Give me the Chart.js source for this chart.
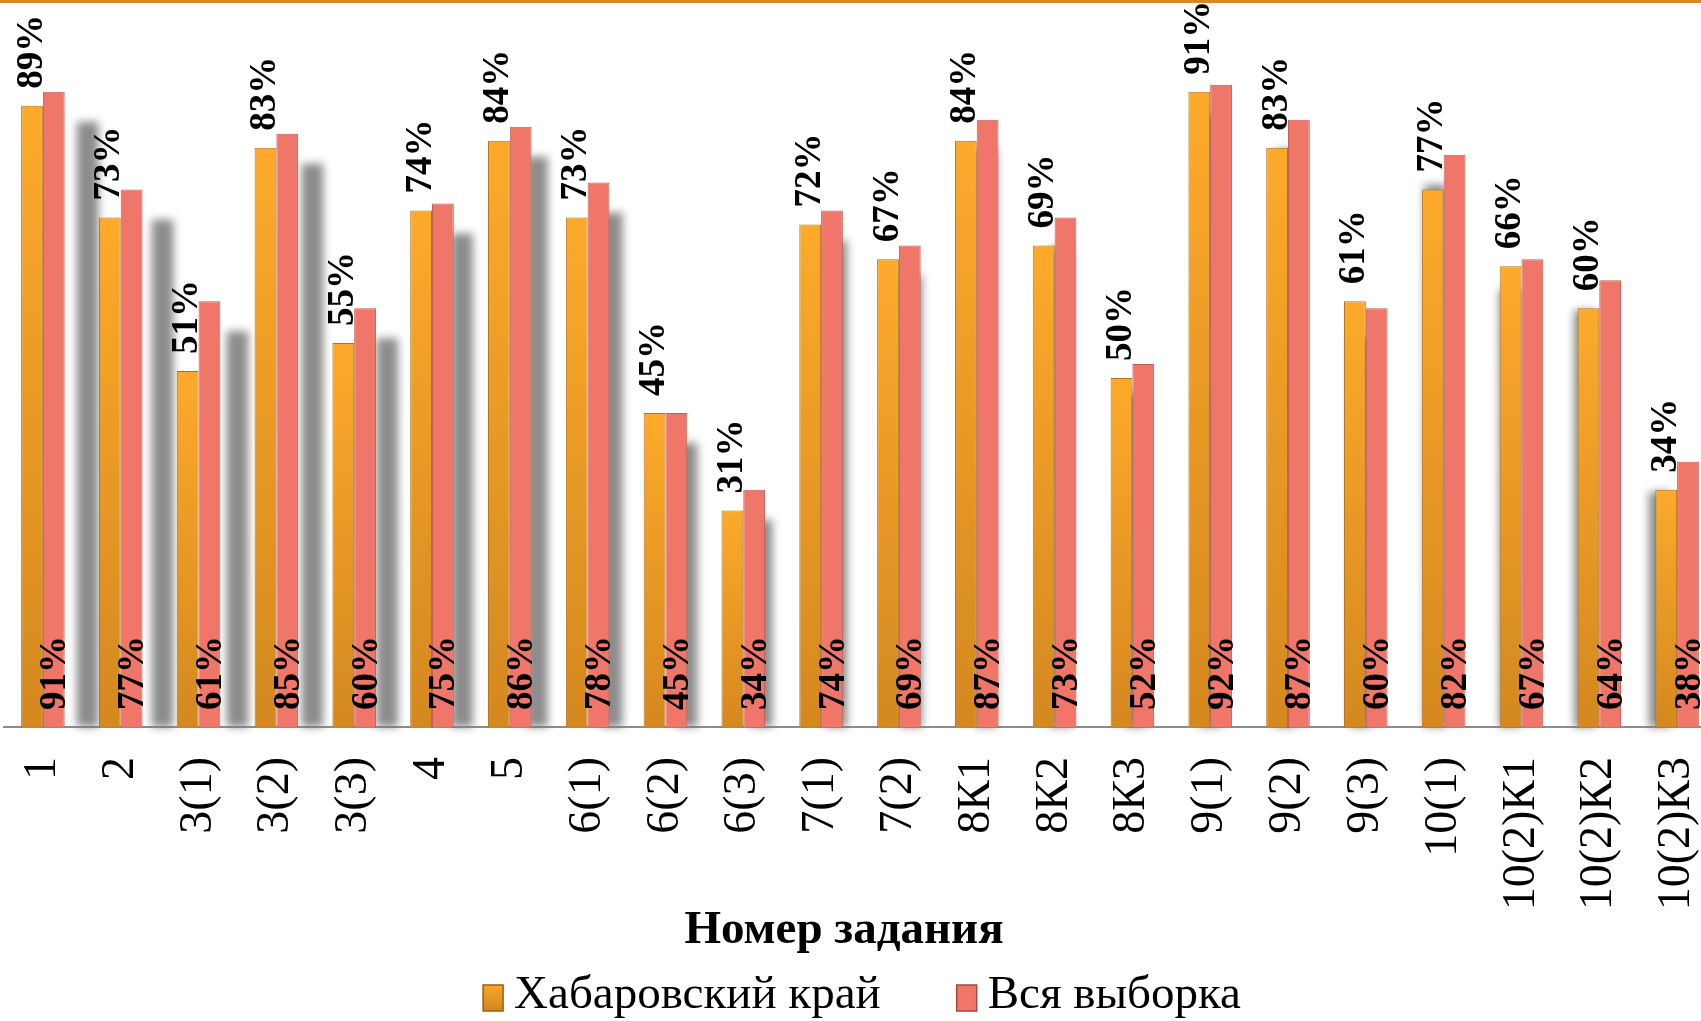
<!DOCTYPE html>
<html>
<head>
<meta charset="utf-8">
<script src="https://cdn.jsdelivr.net/npm/chart.js@4.4.0/dist/chart.umd.min.js"></script>
<style>
    html, body { margin: 0; padding: 0; background: #fff; overflow: hidden; }
    #okno { width: 1701px; height: 1021px; overflow: hidden; position: relative; }
    /* область графика шире окна: ось справа уходит за край, как в оригинале */
    #wrap { width: 1716px; height: 1021px; position: absolute; left: 0; top: 0; }
</style>
</head>
<body>
<div id="okno"><div id="wrap"><canvas id="grafik"></canvas></div></div>
<script>
const zadaniya = ['1', '2', '3(1)', '3(2)', '3(3)', '4', '5', '6(1)', '6(2)', '6(3)', '7(1)', '7(2)',
    '8К1', '8К2', '8К3', '9(1)', '9(2)', '9(3)', '10(1)', '10(2)К1', '10(2)К2', '10(2)К3'];
const khabarovskiyKray = [89, 73, 51, 83, 55, 74, 84, 73, 45, 31, 72, 67, 84, 69, 50, 91, 83, 61, 77, 66, 60, 34];
const vsyaVyborka = [91, 77, 61, 85, 60, 75, 86, 78, 45, 34, 74, 69, 87, 73, 52, 92, 87, 60, 82, 67, 64, 38];
const nazvaniyaRyadov = ['Хабаровский край', 'Вся выборка'];
const nazvanieOsi = 'Номер задания';

const SHRIFT = '"Liberation Serif", "Times New Roman", serif';

function oranzhGradient(ctx, top, bottom) {
    let g = ctx.createLinearGradient(0, top, 0, bottom);
    g.addColorStop(0, '#FDAA2B');
    g.addColorStop(1, '#D4881F');
    return g;
}

// фон и оранжевая линия сверху
const fonPlugin = {
    id: 'fon',
    beforeDraw(chart) {
        let ctx = chart.ctx;
        ctx.save();
        ctx.fillStyle = '#fff';
        ctx.fillRect(0, 0, chart.width, chart.height);
        ctx.fillStyle = '#D8891E';
        ctx.fillRect(0, 0, chart.width, 3);
        ctx.restore();
    }
};

// серая тень за столбиками "Вся выборка"
const tenPlugin = {
    id: 'ten',
    beforeDatasetsDraw(chart) {
        let ctx = chart.ctx;
        let meta = chart.getDatasetMeta(1);
        let centr = chart.chartArea.left + chart.chartArea.width * 0.55;
        ctx.save();
        ctx.filter = 'blur(4px)';
        ctx.fillStyle = 'rgba(120,120,120,0.85)';
        meta.data.forEach(function (bar) {
            let p = bar.getProps(['x', 'y', 'base', 'width'], true);
            let dx = (centr - p.x) * 0.038;
            let top = p.y + 30;
            ctx.fillRect(p.x - p.width / 2 + dx, top, p.width, p.base - top);
        });
        ctx.restore();
    }
};

// подписи значений
const podpisiPlugin = {
    id: 'podpisi',
    afterDatasetsDraw(chart) {
        let ctx = chart.ctx;
        ctx.save();
        ctx.font = 'bold 37px ' + SHRIFT;
        ctx.fillStyle = '#000';
        ctx.textBaseline = 'middle';
        ctx.textAlign = 'left';
        chart.getDatasetMeta(0).data.forEach(function (bar, i) {
            ctx.save();
            ctx.translate(bar.x, bar.y - 17);
            ctx.rotate(-Math.PI / 2);
            ctx.fillText(khabarovskiyKray[i] + '%', 0, 0);
            ctx.restore();
        });
        chart.getDatasetMeta(1).data.forEach(function (bar, i) {
            ctx.save();
            ctx.translate(bar.x + 2, bar.base - 17);
            ctx.rotate(-Math.PI / 2);
            ctx.fillText(vsyaVyborka[i] + '%', 0, 0);
            ctx.restore();
        });
        ctx.restore();
    }
};

// подпись оси и легенда внизу
const legendaPlugin = {
    id: 'legenda',
    afterDraw(chart) {
        let ctx = chart.ctx;
        ctx.save();
        ctx.fillStyle = '#000';
        ctx.textBaseline = 'middle';
        ctx.textAlign = 'center';
        ctx.font = 'bold 47px ' + SHRIFT;
        ctx.fillText(nazvanieOsi, 844, 931);

        ctx.textAlign = 'left';
        ctx.font = '47px ' + SHRIFT;
        let y = chart.height - 25;
        let bw = 20, bh = 26, gapBox = 11, gapItem = 76;
        let items = chart.data.datasets.map(function (d) {
            return { label: d.label, w: ctx.measureText(d.label).width };
        });
        let total = 0;
        items.forEach(function (it, i) { total += bw + gapBox + it.w + (i > 0 ? gapItem : 0); });
        let x = 862 - total / 2;
        items.forEach(function (it, i) {
            if (i == 0) {
                ctx.fillStyle = oranzhGradient(ctx, y - bh / 2, y + bh / 2);
                ctx.strokeStyle = '#9A5F12';
            } else {
                ctx.fillStyle = '#F0766A';
                ctx.strokeStyle = '#A8473F';
            }
            ctx.fillRect(x, y - bh / 2 + 2, bw, bh);
            ctx.lineWidth = 1.5;
            ctx.strokeRect(x, y - bh / 2 + 2, bw, bh);
            x += bw + gapBox;
            ctx.fillStyle = '#000';
            ctx.fillText(it.label, x, y);
            x += it.w + gapItem;
        });
        ctx.restore();
    }
};

let dados = {
    labels: zadaniya,
    datasets: [{
        label: nazvaniyaRyadov[0],
        data: khabarovskiyKray,
        backgroundColor: function (c) {
            let chart = c.chart;
            if (!chart.chartArea) return '#EE9A25';
            let top = chart.scales.y.getPixelForValue(c.raw);
            let bottom = chart.scales.y.getPixelForValue(0);
            return oranzhGradient(chart.ctx, top, bottom);
        },
        borderColor: '#B5721A',
        borderWidth: 1,
        barPercentage: 1,
        categoryPercentage: 0.56
    }, {
        label: nazvaniyaRyadov[1],
        data: vsyaVyborka,
        backgroundColor: '#F1766A',
        borderColor: '#C25E55',
        borderWidth: 1,
        barPercentage: 1,
        categoryPercentage: 0.56
    }]
};

let options = {
    responsive: true,
    maintainAspectRatio: false,
    animation: false,
    layout: { padding: { top: 29, left: 4, right: 0, bottom: 60 } },
    plugins: {
        legend: { display: false },
        tooltip: { enabled: false }
    },
    scales: {
        x: {
            grid: { display: false, drawTicks: false },
            border: { display: true, color: '#8C8C8C', width: 2 },
            ticks: {
                autoSkip: false,
                minRotation: 90,
                maxRotation: 90,
                padding: 30,
                color: '#000',
                font: { family: SHRIFT, size: 46 }
            },
            afterFit: function (scale) {
                scale.height = 1021 - 60 - 727;
                scale.paddingLeft = 0;
                scale.paddingRight = 0;
            }
        },
        y: {
            display: false,
            min: 0,
            max: 100
        }
    }
};

let config = {
    type: 'bar',
    data: dados,
    options: options,
    plugins: [fonPlugin, tenPlugin, podpisiPlugin, legendaPlugin]
};
let grafik = new Chart(document.getElementById('grafik'), config);
</script>
</body>
</html>
